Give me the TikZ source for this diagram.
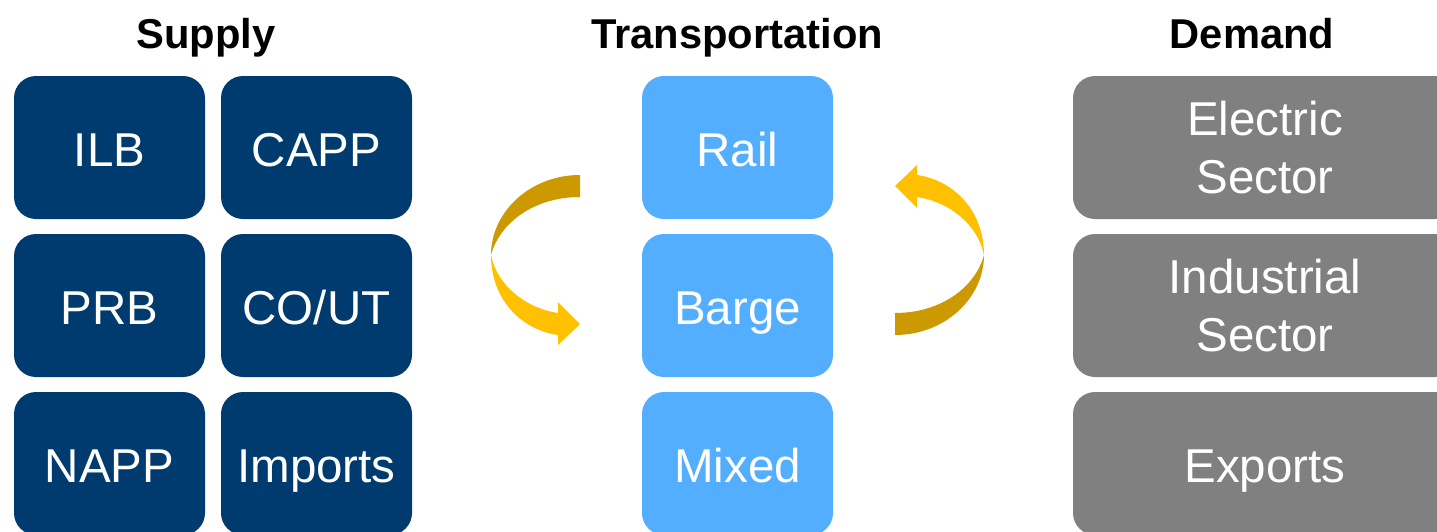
\documentclass[tikz,border=0pt]{standalone}
\usepackage{fontspec}
\setmainfont{Liberation Sans}
\usetikzlibrary{positioning}

\definecolor{supplyblue}{RGB}{0,59,111}
\definecolor{transblue}{RGB}{83,174,255}
\definecolor{demandgray}{RGB}{128,128,128}
\definecolor{golddark}{RGB}{204,153,0}
\definecolor{goldlight}{RGB}{255,192,0}

\begin{document}
\begin{tikzpicture}[x=1pt,y=-1pt]
\tikzstyle{box}=[rectangle, rounded corners=22pt, minimum width=191pt, minimum height=143pt, inner sep=0pt, outer sep=0pt, text=white, align=center, font=\fontsize{47.5}{58}\selectfont]
\tikzstyle{oneline}=[text height=37pt, text depth=0pt]
\tikzstyle{supply}=[box, oneline, fill=supplyblue]
\tikzstyle{trans}=[box, oneline, fill=transblue]
\tikzstyle{demand}=[box, fill=demandgray, minimum width=384pt]
\tikzstyle{title}=[anchor=base, font=\fontsize{41.7}{50}\selectfont\bfseries]

\useasboundingbox (0,0) rectangle (1437,531);
\clip (0,0) rectangle (1437,531);

%% Supply
  \node[supply] (ilb) at (109.5,147.5) {ILB};
  \node[supply] (capp) [right=16pt of ilb] {CAPP};
  \node[supply] (prb) [below=15pt of ilb] {PRB};
  \node[supply] (cout) [right=16pt of prb] {CO/UT};
  \node[supply] (napp) [below=15pt of prb] {NAPP};
  \node[supply] (imports) [right=16pt of napp] {Imports};

%% Transportation
  \node[trans] (rail) at (737.5,147.5) {Rail};
  \node[trans] (barge) [below=15pt of rail] {Barge};
  \node[trans] (mixed) [below=15pt of barge] {Mixed};

%% Demand
  \node[demand] (electric) at (1265,147.5) {Electric\\Sector};
  \node[demand] (industrial) [below=15pt of electric] {Industrial\\Sector};
  \node[demand, oneline] (exports) [below=15pt of industrial] {Exports};

%% Headings
  \node[title] (supplyhead) at (206,48) {Supply};
  \node[title] (transhead) at (737,48) {Transportation};
  \node[title] (demandhead) at (1252,48) {Demand};

  % turning arrows, the right one is the left one turned round
  \foreach \turn in {0,180} {
    \begin{scope}[rotate around={\turn:(737.5,255)}]
      \fill[golddark] (580,175) .. controls (530,175) and (491,212) .. (491,255)
        .. controls (500,222) and (535,197) .. (580,197) -- cycle;
      \fill[goldlight] (491,255) .. controls (491,300) and (522,330) .. (558,335)
        -- (558,345) -- (580,324) -- (558,302) -- (558,313)
        .. controls (525,308) and (497,285) .. (491,255) -- cycle;
    \end{scope}
  }
\end{tikzpicture}
\end{document}
